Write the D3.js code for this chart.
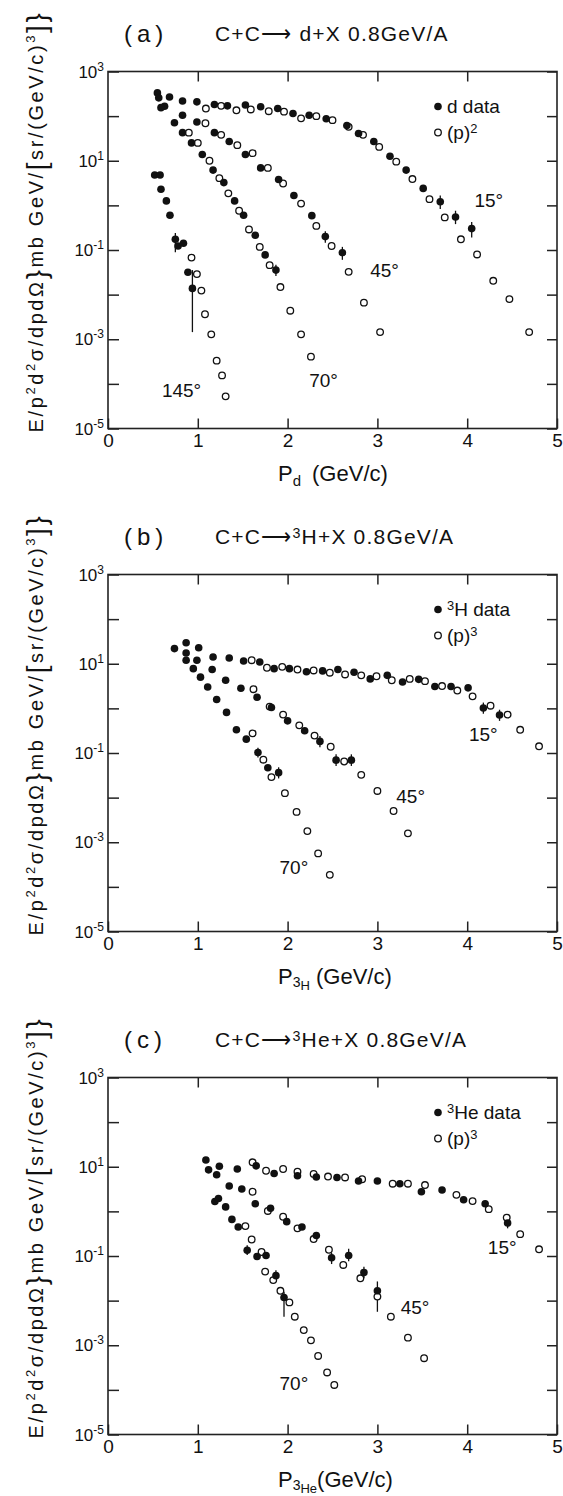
<!DOCTYPE html>
<html lang="en">
<head>
<meta charset="UTF-8">
<title>C+C fragment spectra</title>
<script src="https://d3js.org/d3.v7.min.js"></script>
<style>
  body { margin: 0; background: #fff; }
  svg text { font-family: "Liberation Sans", Arial, sans-serif; fill: #111; }
</style>
</head>
<body>
<div id="root"></div>
<script>
  // momentum p (GeV/c), value = log10 of E/p^2 d2sigma/dpdOmega
  const pTicks = [0, 1, 2, 3, 4, 5];
  const yExps = [3, 2, 1, 0, -1, -2, -3, -4, -5];
  const yLabelExps = [3, 1, -1, -3, -5];

  // (a) deuterons: filled = d data, open = (p)^2
  const d15 = [[0.55,2.52],[0.685,2.43],[0.83,2.34],[0.99,2.32],[1.185,2.26],[1.33,2.23],[1.53,2.25],[1.70,2.21],[1.89,2.17],[2.06,2.06],[2.24,2.02],[2.43,1.94],[2.66,1.79],[2.79,1.61],[2.96,1.43],[3.14,1.10],[3.32,0.79],[3.51,0.38],[3.70,0.08],[3.87,-0.26],[4.05,-0.52]];
  const d15p = [[1.09,2.17],[1.26,2.23],[1.43,2.13],[1.59,2.15],[1.79,2.11],[1.96,2.10],[2.15,1.95],[2.32,2.00],[2.50,1.91],[2.68,1.76],[2.84,1.58],[3.02,1.31],[3.21,0.98],[3.39,0.59],[3.58,0.14],[3.75,-0.27],[3.93,-0.76],[4.11,-1.10],[4.29,-1.69],[4.47,-2.10],[4.69,-2.84]];
  const d45 = [[0.565,2.41],[0.63,2.22],[0.83,2.02],[0.99,1.87],[1.185,1.63],[1.35,1.43],[1.53,1.14],[1.70,0.84],[1.90,0.58],[2.07,0.22],[2.27,-0.23],[2.42,-0.70],[2.61,-1.06]];
  const d45p = [[1.085,1.84],[1.26,1.58],[1.44,1.35],[1.61,1.17],[1.78,0.84],[1.95,0.49],[2.15,0.04],[2.32,-0.46],[2.49,-0.91],[2.68,-1.49],[2.85,-2.18],[3.03,-2.84]];
  const d70 = [[0.59,2.19],[0.74,1.85],[0.83,1.63],[0.93,1.40],[1.05,1.14],[1.17,0.79],[1.29,0.51],[1.41,0.10],[1.51,-0.22],[1.64,-0.67],[1.75,-1.11],[1.87,-1.45]];
  const d70p = [[0.90,1.63],[1.00,1.40],[1.13,1.00],[1.24,0.61],[1.34,0.27],[1.46,-0.12],[1.57,-0.54],[1.69,-0.93],[1.80,-1.34],[1.92,-1.83],[2.03,-2.36],[2.15,-2.89],[2.26,-3.39]];
  const d145 = [[0.52,0.68],[0.58,0.68],[0.59,0.36],[0.65,0.10],[0.69,-0.22],[0.75,-0.76],[0.78,-0.91],[0.84,-0.85],[0.89,-1.50],[0.94,-1.86]];
  const d145p = [[0.93,-1.17],[0.99,-1.54],[1.04,-1.91],[1.08,-2.44],[1.15,-2.89],[1.21,-3.48],[1.27,-3.81],[1.31,-4.28]];
  const dErr = [[0.75,-0.62,-1.05],[0.94,-1.45,-2.84],[1.87,-1.33,-1.58],[2.42,-0.58,-0.84],[2.61,-0.93,-1.22],[3.70,0.22,-0.08],[3.87,-0.12,-0.42],[4.05,-0.37,-0.72]];
  const dTags = [['15°',4.08,-0.04],['45°',2.92,-1.61],['70°',2.24,-4.07],['145°',0.60,-4.30]];

  // (b) tritons: filled = 3H data, open = (p)^3
  const t15 = [[0.87,1.47],[1.01,1.36],[1.17,1.15],[1.35,1.13],[1.51,1.06],[1.69,1.04],[1.85,0.89],[2.02,0.89],[2.21,0.82],[2.39,0.84],[2.56,0.87],[2.74,0.81],[2.92,0.66],[3.11,0.74],[3.28,0.59],[3.46,0.65],[3.64,0.49],[3.82,0.49],[4.01,0.46],[4.18,0.01],[4.36,-0.15]];
  const t15p = [[1.60,1.08],[1.77,0.91],[1.94,0.93],[2.11,0.87],[2.29,0.85],[2.47,0.80],[2.64,0.76],[2.82,0.74],[2.99,0.72],[3.16,0.63],[3.36,0.66],[3.53,0.61],[3.72,0.50],[3.89,0.40],[4.06,0.27],[4.26,0.06],[4.45,-0.14],[4.59,-0.48],[4.80,-0.85]];
  const t45 = [[0.87,1.24],[0.99,1.08],[1.16,0.87],[1.31,0.63],[1.48,0.45],[1.66,0.25],[1.82,0.02],[2.00,-0.28],[2.19,-0.50],[2.36,-0.74],[2.54,-1.16],[2.71,-1.16]];
  const t45p = [[1.62,0.43],[1.80,0.04],[1.95,-0.14],[2.13,-0.38],[2.30,-0.61],[2.48,-0.86],[2.63,-1.19],[2.82,-1.49],[3.00,-1.85],[3.18,-2.30],[3.34,-2.80]];
  const t70 = [[0.74,1.34],[0.87,1.08],[0.95,0.89],[1.03,0.70],[1.11,0.48],[1.21,0.20],[1.32,-0.09],[1.43,-0.48],[1.54,-0.69],[1.67,-0.99],[1.78,-1.33],[1.90,-1.44]];
  const t70p = [[1.61,-0.56],[1.73,-1.15],[1.82,-1.54],[1.97,-1.90],[2.10,-2.32],[2.22,-2.75],[2.34,-3.25],[2.47,-3.73]];
  const tErr = [[1.67,-0.88,-1.10],[1.90,-1.32,-1.57],[2.36,-0.62,-0.87],[2.54,-1.03,-1.29],[2.71,-1.03,-1.29],[4.18,0.13,-0.12],[4.36,-0.03,-0.28]];
  const tTags = [['15°',4.02,-0.73],['45°',3.21,-2.12],['70°',1.91,-3.72]];

  // (c) helium-3: filled = 3He data, open = (p)^3
  const h15 = [[1.09,1.15],[1.24,1.01],[1.44,0.95],[1.65,1.02],[1.85,0.85],[2.11,0.80],[2.32,0.77],[2.55,0.76],[2.79,0.68],[3.00,0.68],[3.25,0.62],[3.49,0.44],[3.72,0.48],[3.96,0.26],[4.20,0.17],[4.45,-0.26]];
  const h15p = [[1.61,1.10],[1.76,0.91],[1.95,0.95],[2.11,0.89],[2.29,0.84],[2.45,0.78],[2.64,0.76],[2.83,0.72],[3.17,0.62],[3.34,0.62],[3.53,0.59],[3.88,0.37],[4.06,0.23],[4.24,0.05],[4.44,-0.14],[4.59,-0.51],[4.80,-0.85]];
  const h45 = [[1.12,0.93],[1.21,0.82],[1.35,0.57],[1.49,0.50],[1.64,0.17],[1.81,0.07],[1.99,-0.23],[2.16,-0.35],[2.32,-0.54],[2.49,-1.04],[2.68,-0.99],[2.85,-1.37],[3.00,-1.78]];
  const h45p = [[1.61,0.44],[1.78,0.01],[1.95,-0.12],[2.11,-0.38],[2.29,-0.62],[2.46,-0.86],[2.62,-1.20],[2.81,-1.50],[3.00,-1.91],[3.15,-2.36],[3.34,-2.83],[3.52,-3.29]];
  const h70 = [[1.19,0.22],[1.23,0.29],[1.31,0.10],[1.38,-0.18],[1.45,-0.35],[1.55,-0.87],[1.66,-1.01],[1.76,-0.99],[1.87,-1.44],[1.96,-1.93]];
  const h70p = [[1.53,-0.33],[1.60,-0.63],[1.71,-0.91],[1.75,-1.35],[1.84,-1.54],[1.92,-1.78],[2.02,-2.04],[2.08,-2.36],[2.18,-2.66],[2.26,-2.89],[2.34,-3.24],[2.44,-3.61],[2.52,-3.89]];
  const hErr = [[1.55,-0.76,-0.98],[1.87,-1.32,-1.57],[1.96,-1.80,-2.36],[2.49,-0.93,-1.18],[2.68,-0.84,-1.12],[2.85,-1.24,-1.50],[3.00,-1.57,-2.25],[4.45,-0.15,-0.38]];
  const hTags = [['15°',4.23,-0.96],['45°',3.26,-2.29],['70°',1.91,-4.00]];

  const panels = [
    { tag: '(a)', react: ['C+C⟶ d+X 0.8GeV/A'], filled: [d15, d45, d70, d145], open: [d15p, d45p, d70p, d145p],
      errs: dErr, tags: dTags, legend: [['d data'], ['(p)', '2']], xsub: ['d'] },
    { tag: '(b)', react: ['C+C⟶', '3', 'H+X 0.8GeV/A'], filled: [t15, t45, t70], open: [t15p, t45p, t70p],
      errs: tErr, tags: tTags, legend: [['', '3', 'H data'], ['(p)', '3']], xsub: ['3', 'H'] },
    { tag: '(c)', react: ['C+C⟶', '3', 'He+X 0.8GeV/A'], filled: [h15, h45, h70], open: [h15p, h45p, h70p],
      errs: hErr, tags: hTags, legend: [['', '3', 'He data'], ['(p)', '3']], xsub: ['3', 'He'] }
  ];

  const W = 563, H = 1496;
  const L = 108, R = 557, PH = 357;
  const tops = [71.5, 574.5, 1077.5];

  const svg = d3.select('#root').append('svg').attr('width', W).attr('height', H);
  svg.append('rect').attr('width', W).attr('height', H).attr('fill', '#fff');

  const x = d3.scaleLinear().domain([0, 5]).range([L, R]);
  const y = d3.scaleLog().domain([1e-5, 1e3]).range([PH, 0]);

  // text with superscript parts: odd entries raised
  function supText(sel, parts, size) {
    parts.forEach((s, i) => {
      if (!s) return;
      sel.append('tspan').attr('font-size', i % 2 ? size * 0.68 : size)
        .attr('baseline-shift', i % 2 ? '45%' : '0%').text(s);
    });
  }

  panels.forEach((pn, i) => {
    const g = svg.append('g').attr('transform', `translate(0,${tops[i]})`);

    g.append('rect').attr('x', L).attr('y', 0).attr('width', R - L).attr('height', PH)
      .attr('fill', 'none').attr('stroke', '#222').attr('stroke-width', 1.6);

    const tv = yExps.map(e => Math.pow(10, e));
    const axes = [
      g.append('g').attr('transform', `translate(${L},0)`).call(d3.axisLeft(y).tickValues(tv).tickSize(-11).tickFormat('')),
      g.append('g').attr('transform', `translate(${R},0)`).call(d3.axisRight(y).tickValues(tv).tickSize(-10).tickFormat('')),
      g.append('g').call(d3.axisTop(x).tickValues([1, 2, 3, 4]).tickSize(-10).tickFormat('')),
      g.append('g').attr('transform', `translate(0,${PH})`).call(d3.axisBottom(x).tickValues(pTicks).tickSize(-10).tickPadding(5).tickFormat(d3.format('d')))
    ];
    axes.forEach(a => {
      a.select('.domain').remove();
      a.selectAll('line').attr('stroke', '#222').attr('stroke-width', 1.5);
      a.selectAll('text').attr('font-size', 19).attr('font-family', '"Liberation Sans", Arial, sans-serif').attr('fill', '#111');
    });

    // y labels 10^n
    yLabelExps.forEach(e => {
      const t = g.append('text').attr('x', L - 4).attr('y', y(Math.pow(10, e)) + 6)
        .attr('text-anchor', 'end').attr('font-size', 17);
      t.append('tspan').text('10');
      t.append('tspan').attr('font-size', 12).attr('dy', -7).text(String(e));
    });

    // error bars
    g.selectAll('.err').data(pn.errs).enter().append('line')
      .attr('x1', d => x(d[0])).attr('x2', d => x(d[0]))
      .attr('y1', d => y(Math.pow(10, d[1]))).attr('y2', d => y(Math.pow(10, d[2])))
      .attr('stroke', '#111').attr('stroke-width', 1.3);

    // open circles
    pn.open.forEach(s => {
      g.append('g').selectAll('circle').data(s).enter().append('circle')
        .attr('cx', d => x(d[0])).attr('cy', d => y(Math.pow(10, d[1]))).attr('r', 3.3)
        .attr('fill', '#fff').attr('stroke', '#111').attr('stroke-width', 1.3);
    });
    // filled dots
    pn.filled.forEach(s => {
      g.append('g').selectAll('circle').data(s).enter().append('circle')
        .attr('cx', d => x(d[0])).attr('cy', d => y(Math.pow(10, d[1]))).attr('r', 3.8)
        .attr('fill', '#111');
    });

    // angle labels
    g.selectAll('.ang').data(pn.tags).enter().append('text')
      .attr('x', d => x(d[1])).attr('y', d => y(Math.pow(10, d[2])))
      .attr('font-size', 19).text(d => d[0]);

    // legend
    g.append('circle').attr('cx', L + 330).attr('cy', 35).attr('r', 3.8).attr('fill', '#111');
    supText(g.append('text').attr('x', L + 339).attr('y', 41).attr('font-size', 19), pn.legend[0], 19);
    g.append('circle').attr('cx', L + 330).attr('cy', 61).attr('r', 3.3)
      .attr('fill', '#fff').attr('stroke', '#111').attr('stroke-width', 1.3);
    supText(g.append('text').attr('x', L + 339).attr('y', 67).attr('font-size', 19), pn.legend[1], 19);

    // panel title
    g.append('text').attr('x', 124).attr('y', -30).attr('font-size', 24)
      .attr('letter-spacing', 5).text(pn.tag);
    supText(g.append('text').attr('x', 215).attr('y', -31).attr('font-size', 21)
      .attr('font-family', '"DejaVu Sans", sans-serif').attr('letter-spacing', 1.2), pn.react, 21);

    // x axis title
    const xt = g.append('text').attr('x', 278).attr('y', PH + 52).attr('font-size', 22);
    xt.append('tspan').text('P');
    if (pn.xsub.length === 1) {
      xt.append('tspan').attr('font-size', 15).attr('dy', 5).text(pn.xsub[0]);
      xt.append('tspan').attr('dy', -5).text('\u2002(GeV/c)');
    } else {
      xt.append('tspan').attr('font-size', 14).attr('dy', 3).text(pn.xsub[0]);
      xt.append('tspan').attr('font-size', 13).attr('dy', 3).text(pn.xsub[1]);
      xt.append('tspan').attr('dy', -6).text(i === 1 ? ' (GeV/c)' : '(GeV/c)');
    }

    // y axis title, rotated
    const yt = g.append('text').attr('transform', `translate(43,${150})rotate(-90)`)
      .attr('text-anchor', 'middle').attr('font-size', 20).attr('letter-spacing', 2.6);
    yt.append('tspan').text('E/p');
    yt.append('tspan').attr('font-size', 13).attr('dy', -8).text('2');
    yt.append('tspan').attr('dy', 8).text('d');
    yt.append('tspan').attr('font-size', 13).attr('dy', -8).text('2');
    yt.append('tspan').attr('dy', 8).text('σ/dpdΩ');
    yt.append('tspan').attr('font-size', 28).attr('dy', 3).text('}');
    yt.append('tspan').attr('dy', -3).text('mb GeV/');
    yt.append('tspan').attr('font-size', 28).attr('dy', 3).text('[');
    yt.append('tspan').attr('dy', -3).text('sr/(GeV/c)');
    yt.append('tspan').attr('font-size', 13).attr('dy', -8).text('3');
    yt.append('tspan').attr('font-size', 28).attr('dy', 11).text(']}');
  });
</script>
</body>
</html>
